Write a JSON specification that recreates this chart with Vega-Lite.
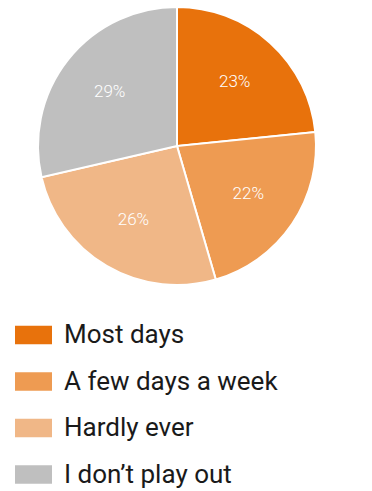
{
  "$schema": "https://vega.github.io/schema/vega-lite/v6.json",
  "width": 354,
  "height": 292,
  "autosize": {"type": "none"},
  "padding": {"left": 0, "top": 0, "right": 18, "bottom": 199},
  "background": "white",
  "data": {
    "values": [
      {"category": "Most days", "share": 23.4, "label": "23%", "rank": 1},
      {"category": "A few days a week", "share": 22.1, "label": "22%", "rank": 2},
      {"category": "Hardly ever", "share": 25.9, "label": "26%", "rank": 3},
      {"category": "I don’t play out", "share": 28.6, "label": "29%", "rank": 4}
    ]
  },
  "encoding": {
    "theta": {"field": "share", "type": "quantitative", "stack": true},
    "order": {"field": "rank", "type": "quantitative"}
  },
  "layer": [
    {
      "mark": {"type": "arc", "outerRadius": 139, "stroke": "white", "strokeWidth": 2},
      "encoding": {
        "color": {
          "field": "category",
          "type": "nominal",
          "sort": ["Most days", "A few days a week", "Hardly ever", "I don’t play out"],
          "scale": {
            "domain": ["Most days", "A few days a week", "Hardly ever", "I don’t play out"],
            "range": ["#E8720C", "#EE9B52", "#F0B787", "#BFBFBF"]
          },
          "legend": {
            "title": null,
            "orient": "none",
            "legendX": 15,
            "legendY": 316.5,
            "padding": 0,
            "symbolType": "M-1,-0.5H1V0.5H-1Z",
            "symbolSize": 1369,
            "symbolStrokeWidth": 0,
            "symbolOpacity": 1,
            "labelFont": "Roboto",
            "labelFontSize": 26,
            "labelColor": "#1a1a1a",
            "labelOffset": 12,
            "labelLimit": 400,
            "rowPadding": 14.5
          }
        }
      }
    },
    {
      "mark": {"type": "text", "radius": 86, "fontSize": 17, "font": "Roboto", "fontWeight": 300, "fill": "white"},
      "encoding": {
        "text": {"field": "label"},
        "detail": {"field": "category"}
      }
    }
  ],
  "config": {"view": {"stroke": null}}
}
